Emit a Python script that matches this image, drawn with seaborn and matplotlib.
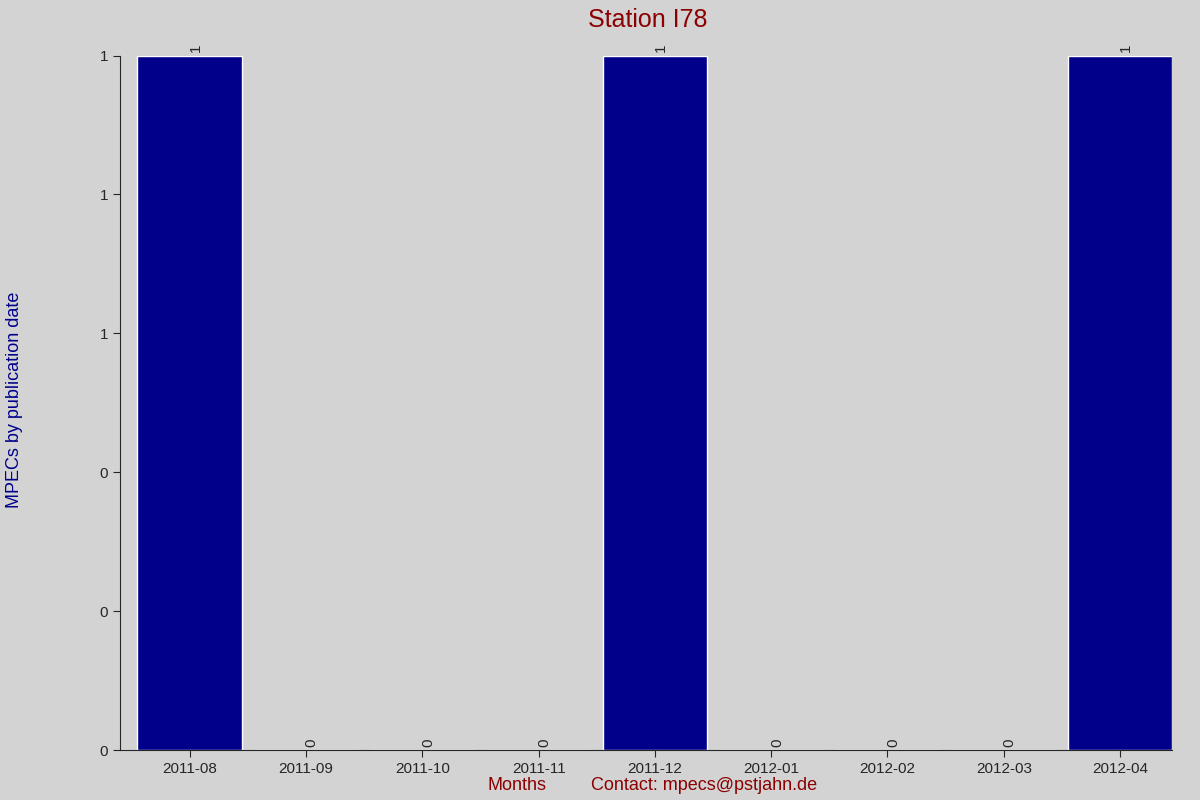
import matplotlib
matplotlib.use("Agg")
import matplotlib.pyplot as plt
import seaborn as sns
import pandas as pd

months = ["2011-08", "2011-09", "2011-10", "2011-11", "2011-12",
          "2012-01", "2012-02", "2012-03", "2012-04"]
counts = [1, 0, 0, 0, 1, 0, 0, 0, 1]

bg = "#d3d3d3"
sns.set_style("white")
plt.rcParams["font.family"] = ["Liberation Sans", "DejaVu Sans"]

fig = plt.figure(figsize=(12, 8), dpi=100, facecolor=bg)
ax = fig.add_axes([0.1, 0.0625, 0.877, 0.868])
ax.set_facecolor(bg)

df = pd.DataFrame({"Month": months, "Count": counts})
sns.barplot(data=df, x="Month", y="Count", color="#00008b", saturation=1,
            width=0.9, ax=ax)
ax.set_xlim(-0.6, 8.45)
ax.set_ylim(0, 1)
ax.set_yticks([0, 0.2, 0.4, 0.6, 0.8, 1.0])
ax.set_yticklabels([f"{v:.0f}" for v in [0, 0.2, 0.4, 0.6, 0.8, 1.0]])
ax.tick_params(labelsize=11, length=5, direction="out", left=True, bottom=True)

for i, c in enumerate(counts):
    ax.text(i + 0.05, c + 0.005, str(c), rotation=90, ha="center",
            va="bottom", fontsize=11)

for s in ["top", "right"]:
    ax.spines[s].set_visible(False)

ax.set_xlabel("")
ax.set_ylabel("")
fig.text(0.54, 0.975, "Station I78", ha="center", va="center",
         fontsize=18, color="#8b0000")
fig.text(0.012, 0.5, "MPECs by publication date", rotation=90, ha="center",
         va="center", fontsize=13, color="#00008b")
fig.text(0.431, 0.018, "Months", ha="center", va="center", fontsize=13,
         color="#8b0000")
fig.text(0.587, 0.018, "Contact: mpecs@pstjahn.de", ha="center", va="center",
         fontsize=13, color="#8b0000")

fig.savefig("out.png", dpi=100, facecolor=bg)
